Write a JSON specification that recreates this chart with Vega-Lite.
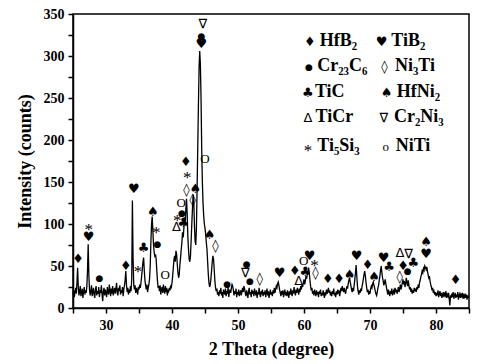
{
"$schema": "https://vega.github.io/schema/vega-lite/v6.json",
"width": 396, "height": 294,
"autosize": "none",
"padding": {"left": 73, "top": 14, "right": 15, "bottom": 56},
"background": "white",
"config": {"view": {"stroke": "black", "strokeWidth": 1.5}, "font": "Liberation Serif"},
"datasets": {
"xrd": [
{"t":25.0,"i":16},{"t":25.1,"i":21},{"t":25.2,"i":13},{"t":25.3,"i":19},{"t":25.4,"i":24},{"t":25.5,"i":17},{"t":25.6,"i":30},{"t":25.7,"i":48},{"t":25.8,"i":24},{"t":25.9,"i":15},
{"t":26.0,"i":20},{"t":26.1,"i":26},{"t":26.2,"i":14},{"t":26.3,"i":18},{"t":26.4,"i":23},{"t":26.5,"i":12},{"t":26.6,"i":19},{"t":26.7,"i":25},{"t":26.8,"i":16},{"t":26.9,"i":21},
{"t":27.0,"i":18},{"t":27.1,"i":26},{"t":27.2,"i":45},{"t":27.3,"i":76},{"t":27.4,"i":40},{"t":27.5,"i":22},{"t":27.6,"i":15},{"t":27.7,"i":20},{"t":27.8,"i":27},{"t":27.9,"i":14},
{"t":28.0,"i":19},{"t":28.1,"i":24},{"t":28.2,"i":16},{"t":28.3,"i":12},{"t":28.4,"i":22},{"t":28.5,"i":26},{"t":28.6,"i":15},{"t":28.7,"i":20},{"t":28.8,"i":17},{"t":28.9,"i":25},
{"t":29.0,"i":13},{"t":29.1,"i":21},{"t":29.2,"i":18},{"t":29.3,"i":27},{"t":29.4,"i":16},{"t":29.5,"i":8},{"t":29.6,"i":20},{"t":29.7,"i":24},{"t":29.8,"i":15},{"t":29.9,"i":22},
{"t":30.0,"i":18},{"t":30.1,"i":13},{"t":30.2,"i":25},{"t":30.3,"i":19},{"t":30.4,"i":16},{"t":30.5,"i":28},{"t":30.6,"i":21},{"t":30.7,"i":14},{"t":30.8,"i":23},{"t":30.9,"i":17},
{"t":31.0,"i":26},{"t":31.1,"i":15},{"t":31.2,"i":20},{"t":31.3,"i":24},{"t":31.4,"i":17},{"t":31.5,"i":22},{"t":31.6,"i":30},{"t":31.7,"i":18},{"t":31.8,"i":15},{"t":31.9,"i":24},
{"t":32.0,"i":20},{"t":32.1,"i":27},{"t":32.2,"i":16},{"t":32.3,"i":21},{"t":32.4,"i":18},{"t":32.5,"i":25},{"t":32.6,"i":14},{"t":32.7,"i":22},{"t":32.8,"i":27},{"t":32.9,"i":33},
{"t":33.0,"i":44},{"t":33.1,"i":28},{"t":33.2,"i":19},{"t":33.3,"i":24},{"t":33.4,"i":16},{"t":33.5,"i":22},{"t":33.6,"i":18},{"t":33.7,"i":26},{"t":33.8,"i":20},{"t":33.9,"i":35},
{"t":34.0,"i":128},{"t":34.1,"i":60},{"t":34.2,"i":28},{"t":34.3,"i":22},{"t":34.4,"i":27},{"t":34.5,"i":18},{"t":34.6,"i":24},{"t":34.7,"i":21},{"t":34.8,"i":16},{"t":34.9,"i":25},
{"t":35.0,"i":22},{"t":35.1,"i":28},{"t":35.2,"i":24},{"t":35.3,"i":30},{"t":35.4,"i":38},{"t":35.5,"i":46},{"t":35.6,"i":55},{"t":35.7,"i":60},{"t":35.8,"i":45},{"t":35.9,"i":33},
{"t":36.0,"i":27},{"t":36.1,"i":22},{"t":36.2,"i":28},{"t":36.3,"i":19},{"t":36.4,"i":24},{"t":36.5,"i":28},{"t":36.6,"i":35},{"t":36.7,"i":50},{"t":36.8,"i":78},{"t":36.9,"i":100},
{"t":37.0,"i":109},{"t":37.1,"i":92},{"t":37.2,"i":75},{"t":37.3,"i":66},{"t":37.4,"i":62},{"t":37.5,"i":64},{"t":37.6,"i":58},{"t":37.7,"i":44},{"t":37.8,"i":32},{"t":37.9,"i":24},
{"t":38.0,"i":26},{"t":38.1,"i":20},{"t":38.2,"i":27},{"t":38.3,"i":16},{"t":38.4,"i":22},{"t":38.5,"i":25},{"t":38.6,"i":18},{"t":38.7,"i":28},{"t":38.8,"i":21},{"t":38.9,"i":17},
{"t":39.0,"i":26},{"t":39.1,"i":19},{"t":39.2,"i":24},{"t":39.3,"i":15},{"t":39.4,"i":22},{"t":39.5,"i":20},{"t":39.6,"i":24},{"t":39.7,"i":21},{"t":39.8,"i":27},{"t":39.9,"i":25},
{"t":40.0,"i":30},{"t":40.1,"i":38},{"t":40.2,"i":48},{"t":40.3,"i":58},{"t":40.4,"i":62},{"t":40.5,"i":55},{"t":40.6,"i":68},{"t":40.7,"i":64},{"t":40.8,"i":52},{"t":40.9,"i":42},
{"t":41.0,"i":36},{"t":41.1,"i":40},{"t":41.2,"i":52},{"t":41.3,"i":60},{"t":41.4,"i":70},{"t":41.5,"i":78},{"t":41.6,"i":90},{"t":41.7,"i":84},{"t":41.8,"i":95},{"t":41.9,"i":108},
{"t":42.0,"i":100},{"t":42.1,"i":118},{"t":42.2,"i":130},{"t":42.3,"i":112},{"t":42.4,"i":85},{"t":42.5,"i":70},{"t":42.6,"i":58},{"t":42.7,"i":55},{"t":42.8,"i":62},{"t":42.9,"i":80},
{"t":43.0,"i":100},{"t":43.1,"i":118},{"t":43.2,"i":135},{"t":43.3,"i":128},{"t":43.4,"i":98},{"t":43.5,"i":80},{"t":43.6,"i":75},{"t":43.7,"i":95},{"t":43.8,"i":140},{"t":43.9,"i":190},
{"t":44.0,"i":240},{"t":44.1,"i":285},{"t":44.2,"i":306},{"t":44.3,"i":290},{"t":44.4,"i":250},{"t":44.5,"i":190},{"t":44.6,"i":150},{"t":44.7,"i":125},{"t":44.8,"i":110},{"t":44.9,"i":100},
{"t":45.0,"i":95},{"t":45.1,"i":88},{"t":45.2,"i":78},{"t":45.3,"i":70},{"t":45.4,"i":55},{"t":45.5,"i":40},{"t":45.6,"i":30},{"t":45.7,"i":25},{"t":45.8,"i":28},{"t":45.9,"i":35},
{"t":46.0,"i":45},{"t":46.1,"i":55},{"t":46.2,"i":62},{"t":46.3,"i":58},{"t":46.4,"i":45},{"t":46.5,"i":32},{"t":46.6,"i":24},{"t":46.7,"i":20},{"t":46.8,"i":23},{"t":46.9,"i":16},
{"t":47.0,"i":19},{"t":47.1,"i":14},{"t":47.2,"i":21},{"t":47.3,"i":17},{"t":47.4,"i":24},{"t":47.5,"i":15},{"t":47.6,"i":19},{"t":47.7,"i":12},{"t":47.8,"i":22},{"t":47.9,"i":18},
{"t":48.0,"i":16},{"t":48.1,"i":23},{"t":48.2,"i":14},{"t":48.3,"i":20},{"t":48.4,"i":17},{"t":48.5,"i":25},{"t":48.6,"i":13},{"t":48.7,"i":19},{"t":48.8,"i":22},{"t":48.9,"i":18},
{"t":49.0,"i":24},{"t":49.1,"i":28},{"t":49.2,"i":26},{"t":49.3,"i":21},{"t":49.4,"i":15},{"t":49.5,"i":20},{"t":49.6,"i":17},{"t":49.7,"i":23},{"t":49.8,"i":13},{"t":49.9,"i":19},
{"t":50.0,"i":16},{"t":50.1,"i":22},{"t":50.2,"i":14},{"t":50.3,"i":18},{"t":50.4,"i":21},{"t":50.5,"i":15},{"t":50.6,"i":20},{"t":50.7,"i":24},{"t":50.8,"i":19},{"t":50.9,"i":26},
{"t":51.0,"i":23},{"t":51.1,"i":18},{"t":51.2,"i":14},{"t":51.3,"i":21},{"t":51.4,"i":17},{"t":51.5,"i":12},{"t":51.6,"i":20},{"t":51.7,"i":24},{"t":51.8,"i":16},{"t":51.9,"i":19},
{"t":52.0,"i":13},{"t":52.1,"i":22},{"t":52.2,"i":17},{"t":52.3,"i":20},{"t":52.4,"i":14},{"t":52.5,"i":23},{"t":52.6,"i":18},{"t":52.7,"i":15},{"t":52.8,"i":21},{"t":52.9,"i":12},
{"t":53.0,"i":19},{"t":53.1,"i":16},{"t":53.2,"i":24},{"t":53.3,"i":17},{"t":53.4,"i":13},{"t":53.5,"i":20},{"t":53.6,"i":18},{"t":53.7,"i":22},{"t":53.8,"i":14},{"t":53.9,"i":19},
{"t":54.0,"i":16},{"t":54.1,"i":21},{"t":54.2,"i":13},{"t":54.3,"i":18},{"t":54.4,"i":23},{"t":54.5,"i":15},{"t":54.6,"i":20},{"t":54.7,"i":12},{"t":54.8,"i":17},{"t":54.9,"i":22},
{"t":55.0,"i":16},{"t":55.1,"i":19},{"t":55.2,"i":14},{"t":55.3,"i":21},{"t":55.4,"i":17},{"t":55.5,"i":24},{"t":55.6,"i":18},{"t":55.7,"i":22},{"t":55.8,"i":26},{"t":55.9,"i":24},
{"t":56.0,"i":29},{"t":56.1,"i":31},{"t":56.2,"i":27},{"t":56.3,"i":22},{"t":56.4,"i":18},{"t":56.5,"i":14},{"t":56.6,"i":20},{"t":56.7,"i":16},{"t":56.8,"i":21},{"t":56.9,"i":13},
{"t":57.0,"i":18},{"t":57.1,"i":22},{"t":57.2,"i":15},{"t":57.3,"i":19},{"t":57.4,"i":14},{"t":57.5,"i":21},{"t":57.6,"i":17},{"t":57.7,"i":12},{"t":57.8,"i":20},{"t":57.9,"i":16},
{"t":58.0,"i":23},{"t":58.1,"i":18},{"t":58.2,"i":14},{"t":58.3,"i":21},{"t":58.4,"i":17},{"t":58.5,"i":25},{"t":58.6,"i":19},{"t":58.7,"i":15},{"t":58.8,"i":22},{"t":58.9,"i":18},
{"t":59.0,"i":24},{"t":59.1,"i":20},{"t":59.2,"i":16},{"t":59.3,"i":23},{"t":59.4,"i":19},{"t":59.5,"i":26},{"t":59.6,"i":22},{"t":59.7,"i":28},{"t":59.8,"i":25},{"t":59.9,"i":30},
{"t":60.0,"i":34},{"t":60.1,"i":28},{"t":60.2,"i":32},{"t":60.3,"i":38},{"t":60.4,"i":35},{"t":60.5,"i":40},{"t":60.6,"i":44},{"t":60.7,"i":48},{"t":60.8,"i":42},{"t":60.9,"i":33},
{"t":61.0,"i":26},{"t":61.1,"i":21},{"t":61.2,"i":24},{"t":61.3,"i":17},{"t":61.4,"i":20},{"t":61.5,"i":15},{"t":61.6,"i":22},{"t":61.7,"i":18},{"t":61.8,"i":14},{"t":61.9,"i":21},
{"t":62.0,"i":16},{"t":62.1,"i":19},{"t":62.2,"i":13},{"t":62.3,"i":20},{"t":62.4,"i":17},{"t":62.5,"i":22},{"t":62.6,"i":14},{"t":62.7,"i":18},{"t":62.8,"i":15},{"t":62.9,"i":21},
{"t":63.0,"i":16},{"t":63.1,"i":12},{"t":63.2,"i":19},{"t":63.3,"i":15},{"t":63.4,"i":22},{"t":63.5,"i":17},{"t":63.6,"i":20},{"t":63.7,"i":24},{"t":63.8,"i":18},{"t":63.9,"i":21},
{"t":64.0,"i":15},{"t":64.1,"i":19},{"t":64.2,"i":14},{"t":64.3,"i":20},{"t":64.4,"i":17},{"t":64.5,"i":23},{"t":64.6,"i":15},{"t":64.7,"i":18},{"t":64.8,"i":13},{"t":64.9,"i":20},
{"t":65.0,"i":16},{"t":65.1,"i":22},{"t":65.2,"i":17},{"t":65.3,"i":21},{"t":65.4,"i":14},{"t":65.5,"i":19},{"t":65.6,"i":24},{"t":65.7,"i":20},{"t":65.8,"i":26},{"t":65.9,"i":22},
{"t":66.0,"i":19},{"t":66.1,"i":24},{"t":66.2,"i":20},{"t":66.3,"i":17},{"t":66.4,"i":22},{"t":66.5,"i":26},{"t":66.6,"i":23},{"t":66.7,"i":29},{"t":66.8,"i":33},{"t":66.9,"i":36},
{"t":67.0,"i":31},{"t":67.1,"i":27},{"t":67.2,"i":22},{"t":67.3,"i":19},{"t":67.4,"i":24},{"t":67.5,"i":20},{"t":67.6,"i":27},{"t":67.7,"i":34},{"t":67.8,"i":42},{"t":67.9,"i":51},
{"t":68.0,"i":38},{"t":68.1,"i":26},{"t":68.2,"i":20},{"t":68.3,"i":16},{"t":68.4,"i":21},{"t":68.5,"i":18},{"t":68.6,"i":23},{"t":68.7,"i":20},{"t":68.8,"i":26},{"t":68.9,"i":30},
{"t":69.0,"i":35},{"t":69.1,"i":40},{"t":69.2,"i":44},{"t":69.3,"i":38},{"t":69.4,"i":30},{"t":69.5,"i":24},{"t":69.6,"i":19},{"t":69.7,"i":22},{"t":69.8,"i":16},{"t":69.9,"i":20},
{"t":70.0,"i":17},{"t":70.1,"i":23},{"t":70.2,"i":26},{"t":70.3,"i":24},{"t":70.4,"i":29},{"t":70.5,"i":31},{"t":70.6,"i":27},{"t":70.7,"i":24},{"t":70.8,"i":20},{"t":70.9,"i":17},
{"t":71.0,"i":15},{"t":71.1,"i":19},{"t":71.2,"i":24},{"t":71.3,"i":27},{"t":71.4,"i":33},{"t":71.5,"i":38},{"t":71.6,"i":45},{"t":71.7,"i":50},{"t":71.8,"i":42},{"t":71.9,"i":36},
{"t":72.0,"i":32},{"t":72.1,"i":27},{"t":72.2,"i":30},{"t":72.3,"i":34},{"t":72.4,"i":29},{"t":72.5,"i":24},{"t":72.6,"i":20},{"t":72.7,"i":16},{"t":72.8,"i":22},{"t":72.9,"i":18},
{"t":73.0,"i":14},{"t":73.1,"i":20},{"t":73.2,"i":17},{"t":73.3,"i":23},{"t":73.4,"i":15},{"t":73.5,"i":19},{"t":73.6,"i":21},{"t":73.7,"i":16},{"t":73.8,"i":24},{"t":73.9,"i":19},
{"t":74.0,"i":22},{"t":74.1,"i":17},{"t":74.2,"i":20},{"t":74.3,"i":25},{"t":74.4,"i":19},{"t":74.5,"i":23},{"t":74.6,"i":28},{"t":74.7,"i":22},{"t":74.8,"i":26},{"t":74.9,"i":30},
{"t":75.0,"i":34},{"t":75.1,"i":28},{"t":75.2,"i":32},{"t":75.3,"i":25},{"t":75.4,"i":29},{"t":75.5,"i":36},{"t":75.6,"i":30},{"t":75.7,"i":26},{"t":75.8,"i":33},{"t":75.9,"i":27},
{"t":76.0,"i":22},{"t":76.1,"i":25},{"t":76.2,"i":19},{"t":76.3,"i":23},{"t":76.4,"i":17},{"t":76.5,"i":21},{"t":76.6,"i":18},{"t":76.7,"i":24},{"t":76.8,"i":20},{"t":76.9,"i":23},
{"t":77.0,"i":19},{"t":77.1,"i":25},{"t":77.2,"i":22},{"t":77.3,"i":28},{"t":77.4,"i":24},{"t":77.5,"i":30},{"t":77.6,"i":33},{"t":77.7,"i":37},{"t":77.8,"i":40},{"t":77.9,"i":44},
{"t":78.0,"i":42},{"t":78.1,"i":47},{"t":78.2,"i":45},{"t":78.3,"i":50},{"t":78.4,"i":48},{"t":78.5,"i":46},{"t":78.6,"i":49},{"t":78.7,"i":44},{"t":78.8,"i":40},{"t":78.9,"i":36},
{"t":79.0,"i":38},{"t":79.1,"i":32},{"t":79.2,"i":28},{"t":79.3,"i":25},{"t":79.4,"i":21},{"t":79.5,"i":24},{"t":79.6,"i":18},{"t":79.7,"i":20},{"t":79.8,"i":16},{"t":79.9,"i":19},
{"t":80.0,"i":14},{"t":80.1,"i":18},{"t":80.2,"i":15},{"t":80.3,"i":21},{"t":80.4,"i":13},{"t":80.5,"i":17},{"t":80.6,"i":20},{"t":80.7,"i":14},{"t":80.8,"i":18},{"t":80.9,"i":12},
{"t":81.0,"i":16},{"t":81.1,"i":19},{"t":81.2,"i":13},{"t":81.3,"i":17},{"t":81.4,"i":15},{"t":81.5,"i":20},{"t":81.6,"i":12},{"t":81.7,"i":16},{"t":81.8,"i":14},{"t":81.9,"i":18},
{"t":82.0,"i":11},{"t":82.1,"i":3},{"t":82.2,"i":15},{"t":82.3,"i":12},{"t":82.4,"i":17},{"t":82.5,"i":13},{"t":82.6,"i":19},{"t":82.7,"i":11},{"t":82.8,"i":15},{"t":82.9,"i":18},
{"t":83.0,"i":12},{"t":83.1,"i":16},{"t":83.2,"i":13},{"t":83.3,"i":19},{"t":83.4,"i":10},{"t":83.5,"i":15},{"t":83.6,"i":17},{"t":83.7,"i":12},{"t":83.8,"i":16},{"t":83.9,"i":14},
{"t":84.0,"i":18},{"t":84.1,"i":11},{"t":84.2,"i":15},{"t":84.3,"i":13},{"t":84.4,"i":17},{"t":84.5,"i":12},{"t":84.6,"i":16},{"t":84.7,"i":10},{"t":84.8,"i":14},{"t":84.9,"i":13},
{"t":85.0,"i":15}
],
"peaks": [
{"t":25.76,"i":58,"s":"♦"},{"t":27.37,"i":97,"s":"*"},{"t":27.37,"i":85,"s":"♥"},{"t":29.0,"i":36,"s":"●"},
{"t":33.0,"i":50,"s":"♦"},{"t":34.2,"i":142,"s":"♥"},{"t":34.85,"i":47,"s":"*"},{"t":35.7,"i":71,"s":"♣"},
{"t":37.1,"i":114,"s":"♠"},{"t":37.6,"i":93,"s":"*"},{"t":37.8,"i":76,"s":"●"},{"t":38.95,"i":39,"s":"O"},
{"t":40.67,"i":96,"s":"Δ"},{"t":40.8,"i":107,"s":"*"},{"t":41.5,"i":113,"s":"●"},{"t":41.7,"i":101,"s":"♣"},
{"t":41.4,"i":125,"s":"O"},{"t":42.1,"i":174,"s":"♦"},{"t":42.3,"i":158,"s":"*"},{"t":42.2,"i":140,"s":"◊"},
{"t":43.15,"i":128,"s":"◊"},{"t":43.55,"i":142,"s":"♠"},{"t":44.66,"i":338,"s":"∇"},{"t":44.46,"i":324,"s":"●"},
{"t":44.46,"i":314,"s":"♥"},{"t":45.0,"i":177,"s":"O"},{"t":45.7,"i":87,"s":"♠"},{"t":46.6,"i":74,"s":"◊"},
{"t":48.35,"i":29,"s":"●"},{"t":51.3,"i":52,"s":"●"},{"t":51.1,"i":42,"s":"∇"},{"t":51.8,"i":32,"s":"●"},
{"t":53.3,"i":34,"s":"◊"},{"t":56.3,"i":42,"s":"♥"},{"t":58.6,"i":44,"s":"♦"},{"t":59.2,"i":32,"s":"Δ"},
{"t":59.97,"i":56,"s":"O"},{"t":60.2,"i":43,"s":"♣"},{"t":60.85,"i":62,"s":"♥"},{"t":61.6,"i":54,"s":"*"},
{"t":61.75,"i":42,"s":"◊"},{"t":63.6,"i":35,"s":"♦"},{"t":65.3,"i":34,"s":"♦"},{"t":66.9,"i":39,"s":"♠"},
{"t":67.97,"i":62,"s":"♥"},{"t":69.64,"i":51,"s":"♦"},{"t":70.6,"i":37,"s":"♠"},{"t":72.07,"i":59,"s":"♥"},
{"t":72.9,"i":49,"s":"♣"},{"t":74.54,"i":65,"s":"Δ"},{"t":75.86,"i":64,"s":"∇"},{"t":75.0,"i":50,"s":"♦"},
{"t":74.5,"i":37,"s":"◊"},{"t":75.7,"i":44,"s":"●"},{"t":76.57,"i":53,"s":"♣"},{"t":78.5,"i":78,"s":"♠"},
{"t":78.5,"i":64,"s":"♥"},{"t":82.98,"i":33,"s":"♦"},
{"t":60.89,"i":317,"s":"♦"},{"t":71.76,"i":317,"s":"♥"},
{"t":60.74,"i":287,"s":"●"},{"t":72.2,"i":287,"s":"◊"},
{"t":60.59,"i":256,"s":"♣"},{"t":72.52,"i":256,"s":"♠"},
{"t":60.59,"i":226,"s":"Δ"},{"t":72.11,"i":226,"s":"∇"},
{"t":60.59,"i":190,"s":"*"},{"t":72.37,"i":192,"s":"o"}
],
"legtxt": [
{"t":62.4,"i":318,"s":"HfB₂"},{"t":73.23,"i":318,"s":"TiB₂"},
{"t":62.0,"i":288,"s":"Cr₂₃C₆"},{"t":73.78,"i":288,"s":"Ni₃Ti"},
{"t":61.65,"i":257,"s":"TiC"},{"t":74.04,"i":257,"s":"HfNi₂"},
{"t":61.75,"i":227,"s":"TiCr"},{"t":73.63,"i":227,"s":"Cr₂Ni₃"},
{"t":62.0,"i":193,"s":"Ti₅Si₃"},{"t":73.89,"i":193,"s":"NiTi"}
]
},
"encoding": {
"x": {"field": "t", "type": "quantitative",
  "scale": {"domain": [25, 85], "nice": false, "zero": false},
  "axis": {"title": "2 Theta (degree)", "values": [25,30,35,40,45,50,55,60,65,70,75,80,85],
    "labelExpr": "datum.value % 10 === 0 ? datum.label : ''",
    "grid": false, "domainColor": "black", "domainWidth": 1.5, "tickColor": "black", "tickWidth": 1.5, "tickSize": 5,
    "labelFont": "Liberation Serif", "labelFontWeight": "bold", "labelFontSize": 14, "labelColor": "black", "labelPadding": 5, "labelFlush": false,
    "titleFont": "Liberation Serif", "titleFontSize": 18, "titleFontWeight": "bold", "titleColor": "black", "titlePadding": 8}},
"y": {"field": "i", "type": "quantitative",
  "scale": {"domain": [0, 350], "nice": false},
  "axis": {"title": "Intensity (counts)", "values": [0,25,50,75,100,125,150,175,200,225,250,275,300,325,350],
    "labelExpr": "datum.value % 50 === 0 ? datum.label : ''",
    "grid": false, "domainColor": "black", "domainWidth": 1.5, "tickColor": "black", "tickWidth": 1.5, "tickSize": 5,
    "labelFont": "Liberation Serif", "labelFontWeight": "bold", "labelFontSize": 14, "labelColor": "black", "labelPadding": 4, "labelFlush": false,
    "titleFont": "Liberation Serif", "titleFontSize": 18, "titleFontWeight": "bold", "titleColor": "black", "titlePadding": 9}}
},
"layer": [
{"data": {"name": "xrd"}, "mark": {"type": "line", "color": "black", "strokeWidth": 1.3}},
{"data": {"name": "peaks"}, "transform": [{"filter": "datum.s !== '●' && datum.s !== '*' && datum.s !== 'O' && datum.s !== 'o'"}],
 "mark": {"type": "text", "font": "DejaVu Sans", "fontSize": 13, "color": "black", "fill": "black", "align": "center", "baseline": "middle"}, "encoding": {"text": {"field": "s"}}},
{"data": {"name": "peaks"}, "transform": [{"filter": "datum.s === '●'"}],
 "mark": {"type": "text", "font": "DejaVu Sans", "fontSize": 9, "color": "black", "fill": "black", "align": "center", "baseline": "middle"}, "encoding": {"text": {"field": "s"}}},
{"data": {"name": "peaks"}, "transform": [{"filter": "datum.s === '*'"}],
 "mark": {"type": "text", "font": "Liberation Serif", "fontSize": 17, "color": "black", "fill": "black", "align": "center", "baseline": "middle", "dy": 3}, "encoding": {"text": {"field": "s"}}},
{"data": {"name": "peaks"}, "transform": [{"filter": "datum.s === 'O' || datum.s === 'o'"}],
 "mark": {"type": "text", "font": "Liberation Serif", "fontSize": 13, "color": "black", "fill": "black", "align": "center", "baseline": "middle"}, "encoding": {"text": {"field": "s"}}},
{"data": {"name": "legtxt"}, "mark": {"type": "text", "font": "Liberation Serif", "fontWeight": "bold", "fontSize": 18, "color": "black", "fill": "black", "align": "left", "baseline": "middle"}, "encoding": {"text": {"field": "s"}}}
]
}
